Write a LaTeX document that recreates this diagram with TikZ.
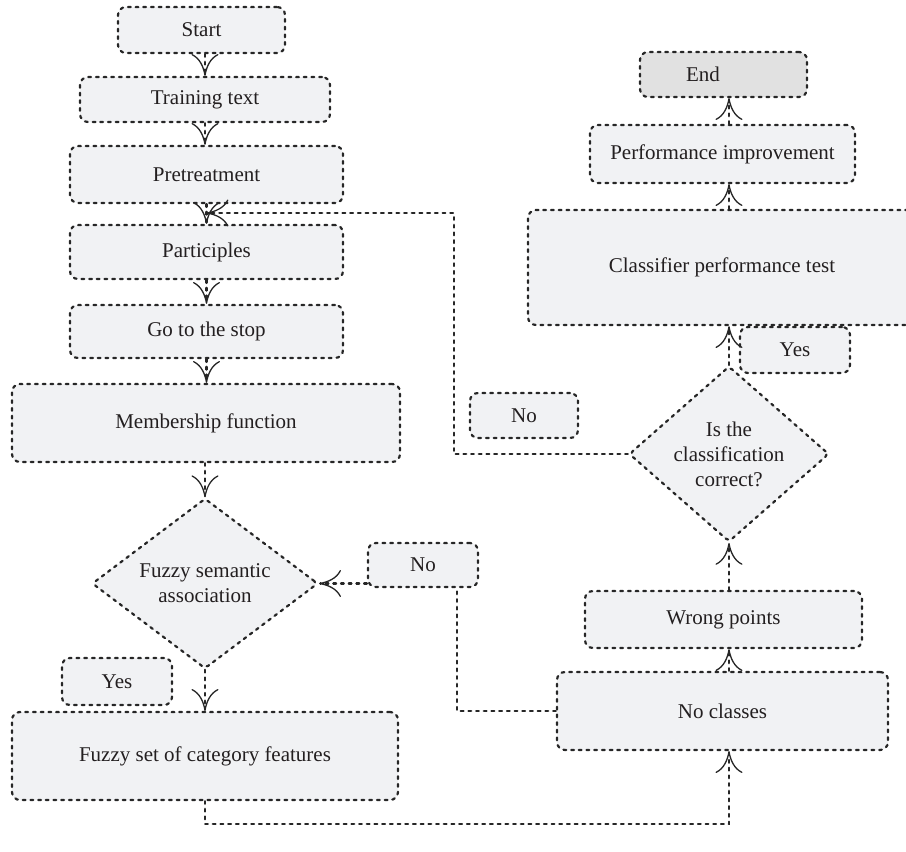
\documentclass[tikz,border=0pt]{standalone}
\usepackage{fontspec}
\setmainfont{Liberation Serif}
\usetikzlibrary{arrows.meta,shapes.geometric,calc}
\definecolor{boxfill}{HTML}{F1F2F4}
\definecolor{endfill}{HTML}{E1E1E1}
\definecolor{ink}{HTML}{262626}
\definecolor{txt}{HTML}{231F20}
\begin{document}
\begin{tikzpicture}[x=1pt,y=-1pt,
  dline/.style={draw=ink,line width=2.2pt,line cap=round,dash pattern=on 2.8pt off 4.9pt},
  box/.style={dline,rectangle,rounded corners=8pt,fill=boxfill,inner sep=0pt,
    text=txt,font=\rmfamily\fontsize{21}{25}\selectfont,align=center},
  endbox/.style={box,fill=endfill},
  decision/.style={dline,diamond,rounded corners=4pt,fill=boxfill,inner sep=0pt,
    text=txt,font=\rmfamily\fontsize{21}{25}\selectfont,align=center},
  link/.style={dline},
  arr/.style={dline,-{Computer Modern Rightarrow[scale length=3.4,scale width=2.0,line width=1.3pt]}},
]
\useasboundingbox (0,0) rectangle (906,852);

% left column
\node[box,minimum width=167,minimum height=46] (start) at (201.5,30) {Start};
\node[box,minimum width=250,minimum height=45] (train) at (205,99.5) {Training text};
\node[box,minimum width=273,minimum height=57] (pre) at (206.5,174.5) {Pretreatment};
\node[box,minimum width=273,minimum height=54] (part) at (206.5,252) {Participles};
\node[box,minimum width=273,minimum height=53] (stop) at (206.5,331.5) {Go to the stop};
\node[box,minimum width=388,minimum height=78] (memb) at (206,423) {Membership function};
\node[decision,minimum width=226,minimum height=137] (dia1) at (205,583.5) {Fuzzy semantic\\association};
\node[box,minimum width=110,minimum height=44] (nol) at (423,565) {No};
\node[box,minimum width=110,minimum height=47] (yesl) at (117,681.5) {Yes};
\node[box,minimum width=386,minimum height=88] (fuzzy) at (205,756) {Fuzzy set of category features};

% right column
\node[box,minimum width=331,minimum height=78] (nocl) at (722.5,711) {No classes};
\node[box,minimum width=277,minimum height=57] (wrong) at (723.5,619.5) {Wrong points};
\node[decision,minimum width=200,minimum height=120] (dia2) at (729,454) {Is the\\classification\\correct?};
\node[box,minimum width=108,minimum height=45] (nom) at (524,415.5) {No};
\node[box,minimum width=388,minimum height=115] (clf) at (722,267.5) {Classifier performance test};
\node[box,minimum width=110,minimum height=46] (yesr) at (795,350) {Yes};
\node[box,minimum width=265,minimum height=58] (perf) at (722.5,154) {Performance improvement};
\node[endbox,minimum width=167,minimum height=45] (end) at (723.5,74.5) {End\hspace{41pt}};

% free end of the feedback connector
\coordinate (ret) at ($(pre.south)!0.45!(part.north)$);

% connectors, left column
\draw[arr] (start.south -| train.north) -- (train.north);
\draw[arr] (train.south) -- (pre.north -| train.south);
\draw[arr] (pre.south) -- (part.north);
\draw[arr] (part.south) -- (stop.north);
\draw[arr] (stop.south) -- (memb.north -| stop.south);
\draw[arr] (memb.south -| dia1.north) -- (dia1.north);
\draw[arr] (dia1.south) -- (fuzzy.north -| dia1.south);
\draw[arr] (dia1.east -| nol.west) -- (dia1.east);
\draw[link] (nocl.west) -| ([xshift=-22pt]nol.south east);
\draw[arr] (fuzzy.south) -- ++(0,23) -| (nocl.south -| dia2.center);

% connectors, right column
\draw[arr] (nocl.north -| dia2.center) -- (wrong.south -| dia2.center);
\draw[arr] (wrong.north -| dia2.center) -- (dia2.south);
\draw[arr] (dia2.north) -- (clf.south -| dia2.center);
\draw[arr] (clf.north -| dia2.center) -- (perf.south -| dia2.center);
\draw[arr] (perf.north -| dia2.center) -- (end.south -| dia2.center);
\draw[arr] (dia2.west) -- ++(-174,0) |- (ret);
\end{tikzpicture}
\end{document}
